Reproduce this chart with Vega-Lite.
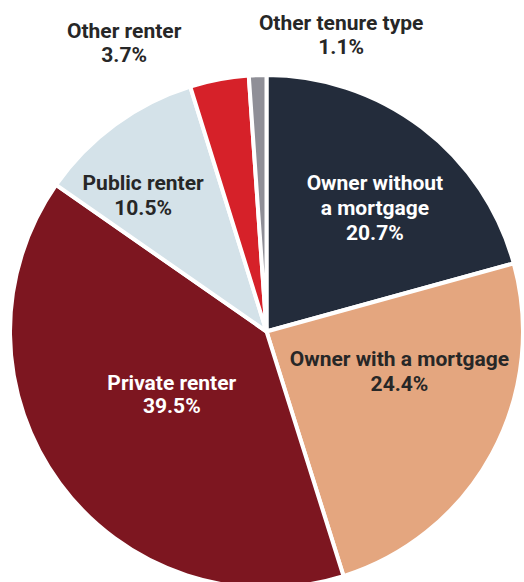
{
  "$schema": "https://vega.github.io/schema/vega-lite/v6.json",
  "width": 513,
  "height": 513,
  "autosize": {"type": "none"},
  "padding": {"left": 10, "top": 75, "right": 0, "bottom": 0},
  "background": "white",
  "config": {"view": {"stroke": null}},
  "data": {
    "values": [
      {"tenure": "Owner without a mortgage", "share": 20.7, "rank": 1, "label": "Owner without\na mortgage\n20.7%"},
      {"tenure": "Owner with a mortgage", "share": 24.4, "rank": 2, "label": "Owner with a mortgage\n24.4%"},
      {"tenure": "Private renter", "share": 39.5, "rank": 3, "label": "Private renter\n39.5%"},
      {"tenure": "Public renter", "share": 10.5, "rank": 4, "label": "Public renter\n10.5%"},
      {"tenure": "Other renter", "share": 3.7, "rank": 5, "label": "Other renter\n3.7%"},
      {"tenure": "Other tenure type", "share": 1.1, "rank": 6, "label": "Other tenure type\n1.1%"}
    ]
  },
  "encoding": {
    "theta": {"field": "share", "type": "quantitative", "stack": true},
    "order": {"field": "rank", "type": "quantitative"}
  },
  "layer": [
    {
      "mark": {"type": "arc", "stroke": "white", "strokeWidth": 4},
      "encoding": {
        "color": {
          "field": "tenure",
          "type": "nominal",
          "legend": null,
          "scale": {
            "domain": ["Owner without a mortgage", "Owner with a mortgage", "Private renter", "Public renter", "Other renter", "Other tenure type"],
            "range": ["#232c3b", "#e4a67f", "#7d1620", "#d4e2e9", "#d62129", "#8f8f97"]
          }
        }
      }
    },
    {
      "mark": {"type": "text", "radius": 164, "dx": 9, "dy": -17, "align": "center", "baseline": "middle", "lineBreak": "\n", "font": "Roboto", "fontWeight": "bold", "fontSize": 21, "lineHeight": 25, "color": "white"},
      "encoding": {
        "detail": {"field": "tenure"},
        "text": {"condition": {"test": "datum.tenure === 'Owner without a mortgage'", "field": "label"}, "value": ""}
      }
    },
    {
      "mark": {"type": "text", "radius": 140, "dx": 10, "dy": -38, "align": "center", "baseline": "middle", "lineBreak": "\n", "font": "Roboto", "fontWeight": "bold", "fontSize": 21, "lineHeight": 25, "color": "#272727"},
      "encoding": {
        "detail": {"field": "tenure"},
        "text": {"condition": {"test": "datum.tenure === 'Owner with a mortgage'", "field": "label"}, "value": ""}
      }
    },
    {
      "mark": {"type": "text", "radius": 120, "dx": 2, "dy": -19, "align": "center", "baseline": "middle", "lineBreak": "\n", "font": "Roboto", "fontWeight": "bold", "fontSize": 21, "lineHeight": 23, "color": "white"},
      "encoding": {
        "detail": {"field": "tenure"},
        "text": {"condition": {"test": "datum.tenure === 'Private renter'", "field": "label"}, "value": ""}
      }
    },
    {
      "mark": {"type": "text", "radius": 180, "dx": -17, "dy": -2, "align": "center", "baseline": "middle", "lineBreak": "\n", "font": "Roboto", "fontWeight": "bold", "fontSize": 21, "lineHeight": 25, "color": "#272727"},
      "encoding": {
        "detail": {"field": "tenure"},
        "text": {"condition": {"test": "datum.tenure === 'Public renter'", "field": "label"}, "value": ""}
      }
    },
    {
      "mark": {"type": "text", "radius": 300, "dx": -87, "dy": -5, "align": "center", "baseline": "middle", "lineBreak": "\n", "font": "Roboto", "fontWeight": "bold", "fontSize": 21, "lineHeight": 24, "color": "#272727"},
      "encoding": {
        "detail": {"field": "tenure"},
        "text": {"condition": {"test": "datum.tenure === 'Other renter'", "field": "label"}, "value": ""}
      }
    },
    {
      "mark": {"type": "text", "radius": 300, "dx": 85, "dy": -8, "align": "center", "baseline": "middle", "lineBreak": "\n", "font": "Roboto", "fontWeight": "bold", "fontSize": 21, "lineHeight": 24, "color": "#272727"},
      "encoding": {
        "detail": {"field": "tenure"},
        "text": {"condition": {"test": "datum.tenure === 'Other tenure type'", "field": "label"}, "value": ""}
      }
    }
  ]
}
